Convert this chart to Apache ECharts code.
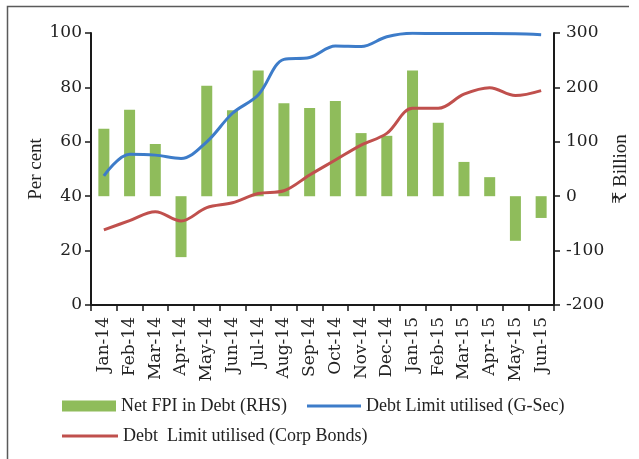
<!DOCTYPE html>
<html>
<head>
<meta charset="utf-8">
<script src="https://cdn.jsdelivr.net/npm/echarts@6/dist/echarts.min.js"></script>
<style>
html,body{margin:0;padding:0;background:#fff;}
#chart{width:639px;height:459px;}
</style>
</head>
<body>
<div id="chart"></div>
<script>
var categories = ['Jan-14','Feb-14','Mar-14','Apr-14','May-14','Jun-14','Jul-14','Aug-14','Sep-14','Oct-14','Nov-14','Dec-14','Jan-15','Feb-15','Mar-15','Apr-15','May-15','Jun-15'];
var netFpiDebt = [124, 159, 96, -112, 203, 158, 231, 171, 162, 175, 116, 111, 231, 135, 63, 35, -82, -40];
var gsecUtilised = [47.5, 55.4, 55.1, 53.9, 60, 70.5, 77.2, 90.3, 91, 95.2, 95, 98.6, 99.9, 99.8, 99.8, 99.8, 99.7, 99.4];
var corpUtilised = [27.6, 31, 34.3, 30.9, 35.8, 37.6, 41, 42, 47.8, 53.3, 58.8, 63.1, 72.3, 72.3, 77.5, 79.9, 77, 78.8];
var leftTicks = {min: 0, max: 100, interval: 20};
var rightTicks = {min: -200, max: 300, interval: 100};
var seriesNames = ['Net FPI in Debt (RHS)', 'Debt Limit utilised (G-Sec)', 'Debt  Limit utilised (Corp Bonds)'];

var serif = "'DejaVu Serif', 'Liberation Serif', serif";
var serif2 = "'Liberation Serif', 'DejaVu Serif', serif";
var axisCol = '#1a1a1a';
var lineIcon = 'path://M0,0H56V3H0Z';

var chart = echarts.init(document.getElementById('chart'), null, {renderer: 'canvas'});
chart.setOption({
  animation: false,
  backgroundColor: '#ffffff',
  graphic: [{
    type: 'polyline',
    silent: true,
    shape: {points: [[629, 6.5], [7.5, 6.5], [7.5, 459]]},
    style: {stroke: '#5a5a5a', lineWidth: 1.5, fill: null}
  }],
  grid: {left: 91, right: 83, top: 33, bottom: 154, containLabel: false},
  legend: [{
    left: 57, top: 392,
    data: [{name: seriesNames[0], icon: 'rect'}, {name: seriesNames[1], icon: lineIcon}],
    itemGap: 20, itemWidth: 54, itemHeight: 11,
    textStyle: {fontFamily: serif2, fontSize: 18, color: '#222'}
  }, {
    left: 57, top: 422,
    data: [{name: seriesNames[2], icon: lineIcon}],
    itemWidth: 56, itemHeight: 11,
    textStyle: {fontFamily: serif2, fontSize: 18, color: '#222'}
  }],
  xAxis: {
    type: 'category',
    data: categories,
    boundaryGap: true,
    axisLine: {lineStyle: {color: axisCol, width: 2}},
    axisTick: {show: true, length: 6, lineStyle: {color: axisCol, width: 1.5}},
    axisLabel: {rotate: 90, margin: 12, interval: 0, fontFamily: serif, fontSize: 17, color: '#222'},
    splitLine: {show: false}
  },
  yAxis: [{
    type: 'value',
    min: leftTicks.min, max: leftTicks.max, interval: leftTicks.interval,
    position: 'left',
    name: 'Per cent',
    nameLocation: 'middle',
    nameRotate: 90,
    nameGap: 45,
    nameMoveOverlap: false,
    nameTextStyle: {fontFamily: serif2, fontSize: 19, color: '#222'},
    axisLine: {show: true, lineStyle: {color: axisCol, width: 2}},
    axisTick: {show: true, length: 6, lineStyle: {color: axisCol, width: 1.5}},
    axisLabel: {margin: 9, fontFamily: serif, fontSize: 17, color: '#222'},
    splitLine: {show: false}
  }, {
    type: 'value',
    min: rightTicks.min, max: rightTicks.max, interval: rightTicks.interval,
    position: 'right',
    name: '₹ Billion',
    nameLocation: 'middle',
    nameRotate: 90,
    nameGap: 58,
    nameMoveOverlap: false,
    nameTextStyle: {fontFamily: serif2, fontSize: 19, color: '#222'},
    axisLine: {show: true, lineStyle: {color: axisCol, width: 2}},
    axisTick: {show: true, length: 6, lineStyle: {color: axisCol, width: 1.5}},
    axisLabel: {margin: 12, fontFamily: serif, fontSize: 17, color: '#222'},
    splitLine: {show: false}
  }],
  series: [{
    name: seriesNames[0],
    type: 'bar',
    yAxisIndex: 1,
    data: netFpiDebt,
    barWidth: 11,
    itemStyle: {color: '#8fbc5b'}
  }, {
    name: seriesNames[1],
    type: 'line',
    yAxisIndex: 0,
    data: gsecUtilised,
    smooth: 0.35,
    symbol: 'none',
    lineStyle: {color: '#3d7cc9', width: 3},
    itemStyle: {color: '#3d7cc9'}
  }, {
    name: seriesNames[2],
    type: 'line',
    yAxisIndex: 0,
    data: corpUtilised,
    smooth: 0.35,
    symbol: 'none',
    lineStyle: {color: '#c0504d', width: 3},
    itemStyle: {color: '#c0504d'}
  }]
});
</script>
</body>
</html>
